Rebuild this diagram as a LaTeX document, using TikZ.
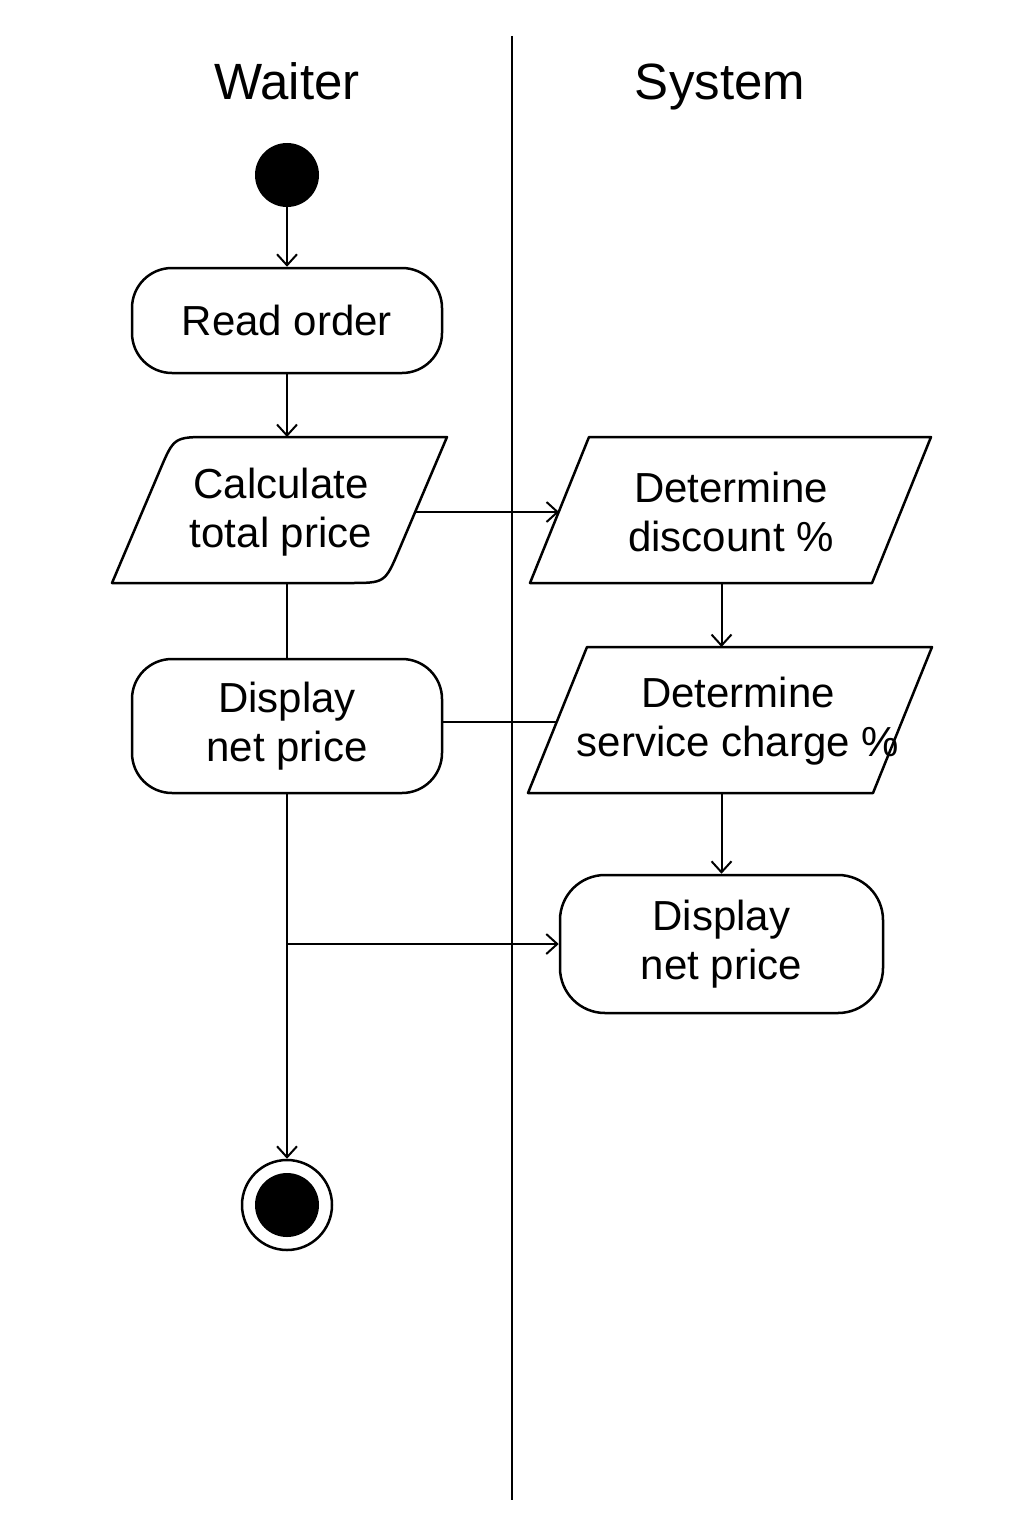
\documentclass[tikz,border=0pt]{standalone}
\usepackage{fontspec}
\setmainfont{Liberation Sans}
\usetikzlibrary{arrows.meta,calc}
\begin{document}
\begin{tikzpicture}[x=1pt,y=-1pt,
  txt/.style={font=\fontsize{42}{49}\selectfont, align=center, inner sep=0pt},
  act/.style={txt, draw, line width=2.5pt, rounded corners=40pt},
  outline/.style={line width=2.5pt, line join=round},
  conn/.style={line width=2pt},
  arr/.style={conn, -{Straight Barb[length=11pt,width=20pt,line width=2pt]}},
  head/.style={font=\fontsize{51}{60}\selectfont, anchor=base}
]
\useasboundingbox[fill=white] (0,0) rectangle (1024,1536);
\coordinate (laneTop) at (512,36);
\coordinate (laneBot) at (512,1500);
\draw[line width=2pt] (laneTop) -- (laneBot);

\node[head] (hw) at (287,100) {Waiter};
\node[head] (hs) at (720,100) {System};

% start and end
\node[circle,fill,inner sep=0pt,minimum size=64pt] (start) at (287,175) {};
\node[circle, draw, line width=2.5pt, minimum size=90pt, inner sep=0pt] (end) at (287,1205) {};
\node[circle, fill, minimum size=64pt, inner sep=0pt] (endin) at (end.center) {};

% rounded actions
\node[act, minimum width=310pt, minimum height=105pt] (read) at (287,320.5) {Read order};
\node[act, minimum width=310pt, minimum height=134pt] (dnp1) at (287,726) {Display\\net price};
\node[act, minimum width=323pt, minimum height=138pt, rounded corners=45pt] (dnp2) at (721.5,944) {Display\\net price};

% Calculate total price (parallelogram, two rounded corners)
\coordinate (cBL) at (112,583);
\coordinate (cTL) at (174,437);
\coordinate (cTR) at (447,437);
\coordinate (cBR) at (385,583);
\draw[outline] (cBL)
  -- ($(cTL)!36pt!(cBL)$) .. controls (cTL) .. ($(cTL)!36pt!(cTR)$)
  -- (cTR)
  -- ($(cBR)!36pt!(cTR)$) .. controls (cBR) .. ($(cBR)!36pt!(cBL)$)
  -- cycle;
\node[txt] (calc) at (281,512) {Calculate\\total price};
\coordinate (calcE) at (415,512);
\coordinate (calcS) at (287,583);

% Determine discount %
\coordinate (d1BL) at (530,583);
\coordinate (d1TL) at (589,437);
\coordinate (d1TR) at (931,437);
\coordinate (d1BR) at (872,583);
\draw[outline] (d1BL) -- (d1TL) -- (d1TR) -- (d1BR) -- cycle;
\node[txt] (det1) at (731,512) {Determine\\discount \%};
\coordinate (det1W) at (559,512);
\coordinate (det1S) at (721.5,583);

% Determine service charge %
\coordinate (d2BL) at (528,793);
\coordinate (d2TL) at (587,647);
\coordinate (d2TR) at (932,647);
\coordinate (d2BR) at (873,793);
\draw[outline] (d2BL) -- (d2TL) -- (d2TR) -- (d2BR) -- cycle;
\node[txt] (det2) at (738,721) {Determine\\service charge \%};
\coordinate (det2W) at (557,722);
\coordinate (det2N) at (721.5,647);
\coordinate (det2S) at (721.5,793);

% connectors
\draw[arr] (start) -- (read);
\draw[arr] (read.south) -- (read.south |- cTL);
\draw[arr] (calcE) -- (det1W);
\draw[conn] (calcS) -- (dnp1.north);
\draw[conn] (dnp1.east |- det2W) -- (det2W);
\draw[arr] (det1S) -- (det2N);
\draw[arr] (det2S) -- (dnp2.north);
\draw[arr] (dnp1.south) -- (end.north);
\draw[arr] (dnp1.south |- dnp2.west) -- (dnp2.west);
\end{tikzpicture}
\end{document}
